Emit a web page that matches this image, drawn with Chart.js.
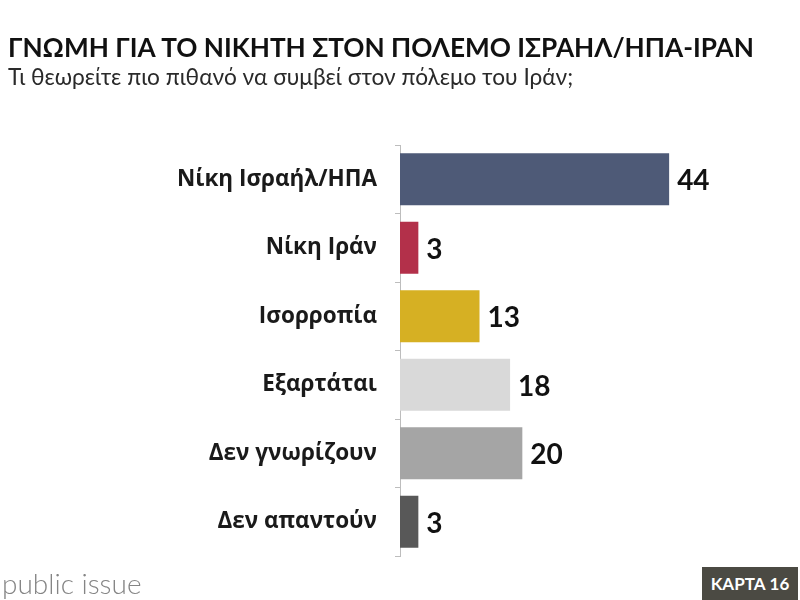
<!DOCTYPE html>
<html><head><meta charset="utf-8">
<script src="https://cdn.jsdelivr.net/npm/chart.js@4.4.0/dist/chart.umd.min.js"></script>
<style>
html,body{margin:0;padding:0;background:#fff;width:800px;height:600px;overflow:hidden;font-family:Lato,"Noto Sans",sans-serif;}
#wrap{position:absolute;left:0;top:0;width:800px;height:600px;}
#title{position:absolute;left:8px;top:31px;font-weight:700;font-size:26.2px;color:#111;white-space:nowrap;}
#sub{position:absolute;left:8px;top:63px;font-size:22.7px;color:#2a2a2a;white-space:nowrap;}
#brand{position:absolute;left:2px;top:566px;font-size:28px;font-weight:300;color:#858585;white-space:nowrap;}
#card{position:absolute;left:702px;top:567px;width:96px;height:33px;background:#4b4a43;color:#fff;font-weight:700;font-size:17px;line-height:33px;text-align:center;}
</style></head>
<body>
<div id="wrap"><canvas id="c" width="800" height="600"></canvas></div>
<div id="title">ΓΝΩΜΗ ΓΙΑ ΤΟ ΝΙΚΗΤΗ ΣΤΟΝ ΠΟΛΕΜΟ ΙΣΡΑΗΛ/ΗΠΑ-ΙΡΑΝ</div>
<div id="sub">Τι θεωρείτε πιο πιθανό να συμβεί στον πόλεμο του Ιράν;</div>
<div id="brand">public issue</div>
<div id="card">ΚΑΡΤΑ 16</div>
<script>
const categories = ["Νίκη Ισραήλ/ΗΠΑ","Νίκη Ιράν","Ισορροπία","Εξαρτάται","Δεν γνωρίζουν","Δεν απαντούν"];
const values = [44,3,13,18,20,3];
const barColors = ["#4e5a77","#b3304a","#d6b023","#d9d9d9","#a5a5a5","#585858"];

const valueLabels = {
  id:'valueLabels',
  afterDatasetsDraw(chart){
    const ctx = chart.ctx;
    const meta = chart.getDatasetMeta(0);
    ctx.save();
    ctx.font = "bold 28px Lato, 'Noto Sans', sans-serif";
    ctx.fillStyle = "#111";
    ctx.textAlign = "left";
    ctx.textBaseline = "middle";
    meta.data.forEach((bar,i)=>{
      ctx.fillText(String(values[i]), bar.x + 8, bar.y + 2);
    });
    ctx.restore();
  }
};

new Chart(document.getElementById('c'),{
  type:'bar',
  data:{labels:categories,datasets:[{data:values,backgroundColor:barColors,borderWidth:0,categoryPercentage:0.76,barPercentage:1}]},
  options:{
    indexAxis:'y',
    responsive:false,
    animation:false,
    devicePixelRatio:1,
    layout:{padding:{top:145,bottom:44,left:0,right:33}},
    plugins:{legend:{display:false},tooltip:{enabled:false}},
    scales:{
      x:{display:false,min:0,max:60},
      y:{
        afterFit(s){ s.width = 400; },
        grid:{display:true,drawOnChartArea:false,drawTicks:true,tickLength:5,color:"#bdbdbd",offset:true},
        border:{display:true,color:"#bdbdbd",width:1},
        ticks:{color:"#1a1a1a",font:{family:"'Open Sans', sans-serif",weight:"bold",size:22.5},padding:18}
      }
    }
  },
  plugins:[valueLabels]
});
</script>
</body></html>
